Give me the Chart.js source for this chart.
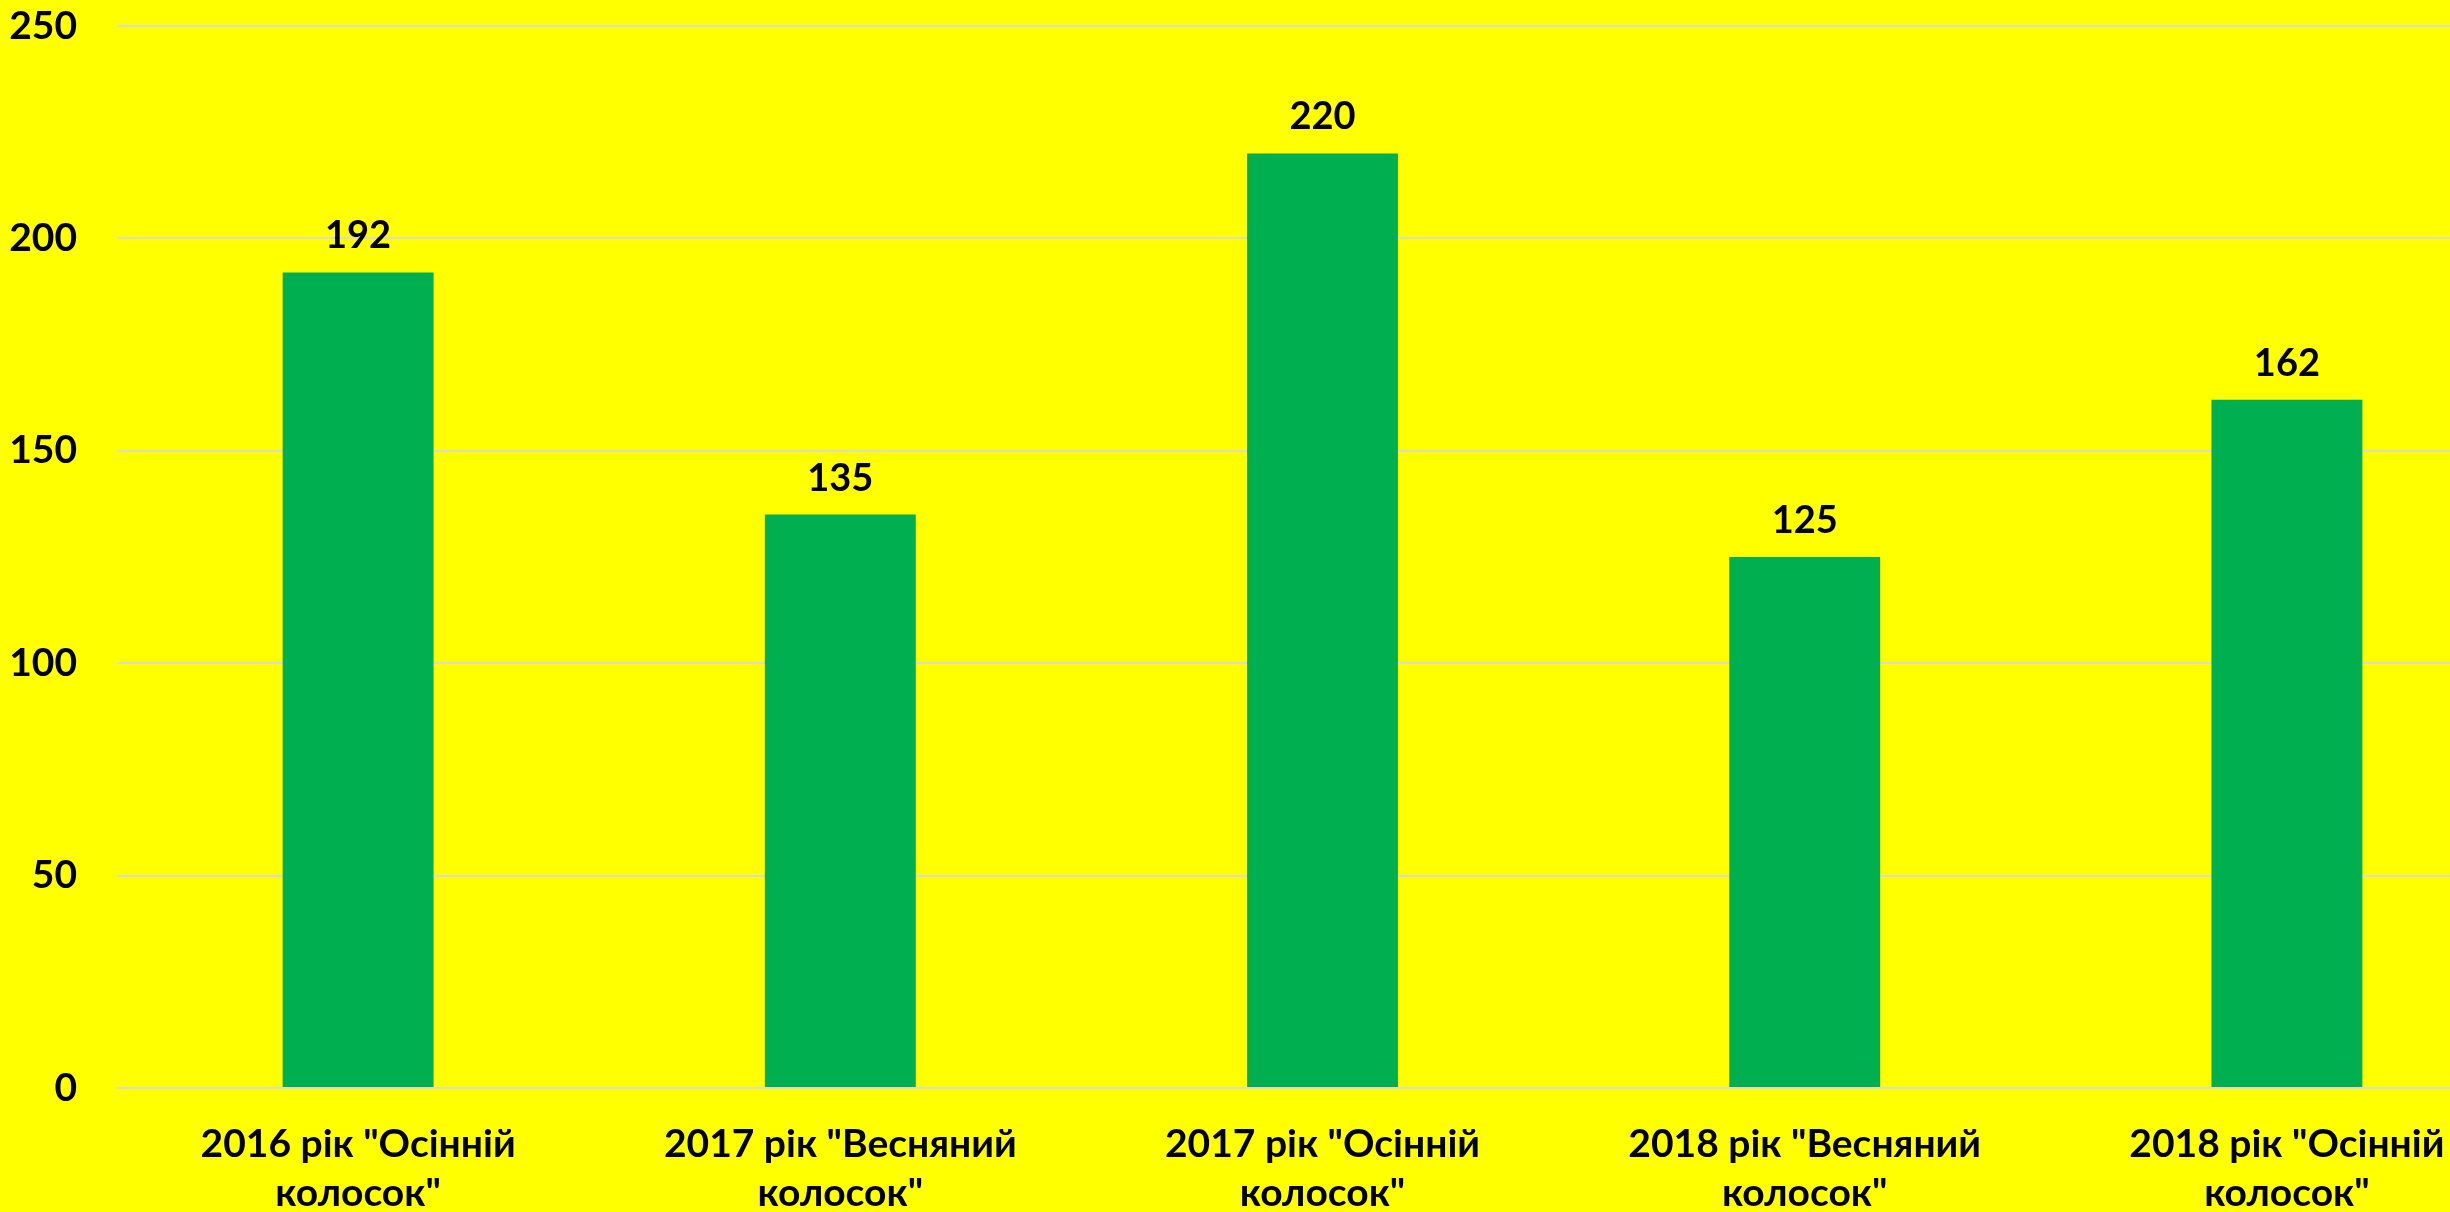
<!DOCTYPE html>
<html>
<head>
<meta charset="utf-8">
<script src="https://cdn.jsdelivr.net/npm/chart.js@4.4.0/dist/chart.umd.min.js"></script>
<style>
  html, body { margin: 0; padding: 0; background: #ffff00; overflow: hidden; }
  #grafica { display: block; }
</style>
</head>
<body>
<canvas id="grafica" width="2528" height="1212"></canvas>
<script>
// categorias (cada linea del rotulo por separado)
const categorias = [
  ["2016 рік \"Осінній", "колосок\""],
  ["2017 рік \"Весняний", "колосок\""],
  ["2017 рік \"Осінній", "колосок\""],
  ["2018 рік \"Весняний", "колосок\""],
  ["2018 рік \"Осінній", "колосок\""]
];
const valores = [192, 135, 220, 125, 162];
const ticksY = [0, 50, 100, 150, 200, 250];

const fuente = "Lato, 'Open Sans', sans-serif";

// plugin propio para escribir el valor encima de cada barra
const etiquetasValor = {
  id: "etiquetasValor",
  afterDatasetsDraw(chart) {
    const ctx = chart.ctx;
    const meta = chart.getDatasetMeta(0);
    ctx.save();
    ctx.font = "bold 38px " + fuente;
    ctx.fillStyle = "#000000";
    ctx.textAlign = "center";
    ctx.textBaseline = "alphabetic";
    meta.data.forEach((barra, i) => {
      ctx.fillText(String(valores[i]), barra.x, barra.y - 24);
    });
    ctx.restore();
  }
};

const ctx = document.getElementById("grafica").getContext("2d");
new Chart(ctx, {
  type: "bar",
  data: {
    labels: categorias,
    datasets: [{
      data: valores,
      backgroundColor: "#00b050",
      borderWidth: 0,
      barPercentage: 0.313,
      categoryPercentage: 1
    }]
  },
  options: {
    responsive: false,
    animation: false,
    layout: { padding: { left: 0, top: 26, right: 0, bottom: 0 } },
    plugins: {
      legend: { display: false },
      tooltip: { enabled: false }
    },
    scales: {
      x: {
        grid: { display: false, drawTicks: false },
        border: { display: false },
        ticks: {
          color: "#000000",
          font: { family: fuente, size: 39, weight: "bold", lineHeight: 1.28 },
          padding: 31,
          maxRotation: 0,
          autoSkip: false
        },
        afterFit(eje) {
          // alto fijo del eje x para que el area del grafico quede en su sitio
          eje.height = 124;
          eje.paddingLeft = 0;
          eje.paddingRight = 0;
        }
      },
      y: {
        min: 0,
        max: 250,
        afterBuildTicks(eje) {
          eje.ticks = ticksY.map((v) => ({ value: v }));
        },
        grid: { color: "#d9d9d9", lineWidth: 2, drawTicks: false },
        border: { display: false },
        ticks: {
          color: "#000000",
          font: { family: fuente, size: 39, weight: "bold" },
          padding: 40
        },
        afterFit(eje) {
          eje.width = 117;
          eje.paddingTop = 0;
          eje.paddingBottom = 0;
        }
      }
    }
  },
  plugins: [etiquetasValor]
});
</script>
</body>
</html>
